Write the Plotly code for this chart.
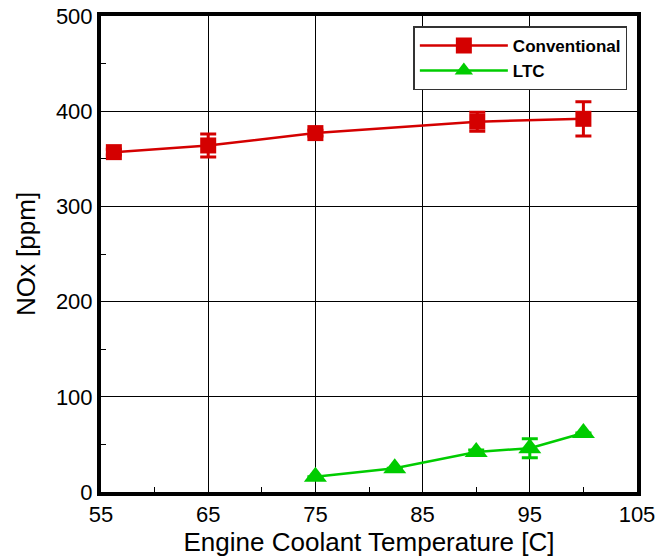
import plotly.graph_objects as go

conv_x = [56.2, 65, 75, 90.1, 100]
conv_y = [357, 364, 377, 389, 392]
conv_err = [3, 12, 3, 10, 18]

ltc_x = [75, 82.4, 90, 95, 100]
ltc_y = [16, 25, 42, 46, 62]
ltc_err = [0, 0, 2, 10, 0]

RED = "#D40000"
GREEN = "#00CC00"
FONT = "Liberation Sans, Arial, sans-serif"

fig = go.Figure()
fig.add_trace(go.Scatter(
    x=conv_x, y=conv_y, mode="lines+markers", name="Conventional",
    line=dict(color=RED, width=2.5),
    marker=dict(symbol="square", size=16, color=RED),
    error_y=dict(type="data", array=conv_err, color=RED, thickness=3, width=8),
))
fig.add_trace(go.Scatter(
    x=ltc_x, y=ltc_y, mode="lines+markers", name="LTC",
    line=dict(color=GREEN, width=2.5),
    marker=dict(symbol="triangle-up", size=20, color=GREEN),
    error_y=dict(type="data", array=ltc_err, color=GREEN, thickness=3, width=8),
))

fig.update_layout(
    width=658, height=560,
    margin=dict(l=101, r=21, t=16, b=68),
    paper_bgcolor="white", plot_bgcolor="white",
    font=dict(family=FONT, color="black"),
    showlegend=True,
    legend=dict(
        x=0.982, y=0.978, xanchor="right", yanchor="top",
        bgcolor="white", bordercolor="#333", borderwidth=1.5,
        font=dict(family=FONT, size=17, color="black", weight="bold"),
        itemwidth=88, tracegroupgap=0,
    ),
)
fig.update_xaxes(
    range=[55, 105], tick0=55, dtick=10, automargin=False,
    showline=True, linecolor="black", linewidth=4, mirror=True,
    showgrid=True, gridcolor="black", gridwidth=1,
    ticks="inside", ticklen=6, tickcolor="black", tickwidth=1,
    minor=dict(ticks="inside", dtick=5, tick0=55, ticklen=5, tickcolor="black", showgrid=False),
    tickfont=dict(size=22, family=FONT),
    title=dict(text="Engine Coolant Temperature [C]", font=dict(size=26, family=FONT), standoff=0),
    zeroline=False,
)
fig.update_yaxes(
    range=[0, 500], tick0=0, dtick=100, automargin=False,
    showline=True, linecolor="black", linewidth=4, mirror=True,
    showgrid=True, gridcolor="black", gridwidth=1,
    ticks="inside", ticklen=8, tickcolor="black", tickwidth=1,
    minor=dict(ticks="inside", dtick=50, ticklen=5, tickcolor="black", showgrid=False),
    tickfont=dict(size=22, family=FONT),
    title=dict(text="NOx [ppm]", font=dict(size=26, family=FONT), standoff=14),
    zeroline=False,
)

fig.write_html("out.html")
